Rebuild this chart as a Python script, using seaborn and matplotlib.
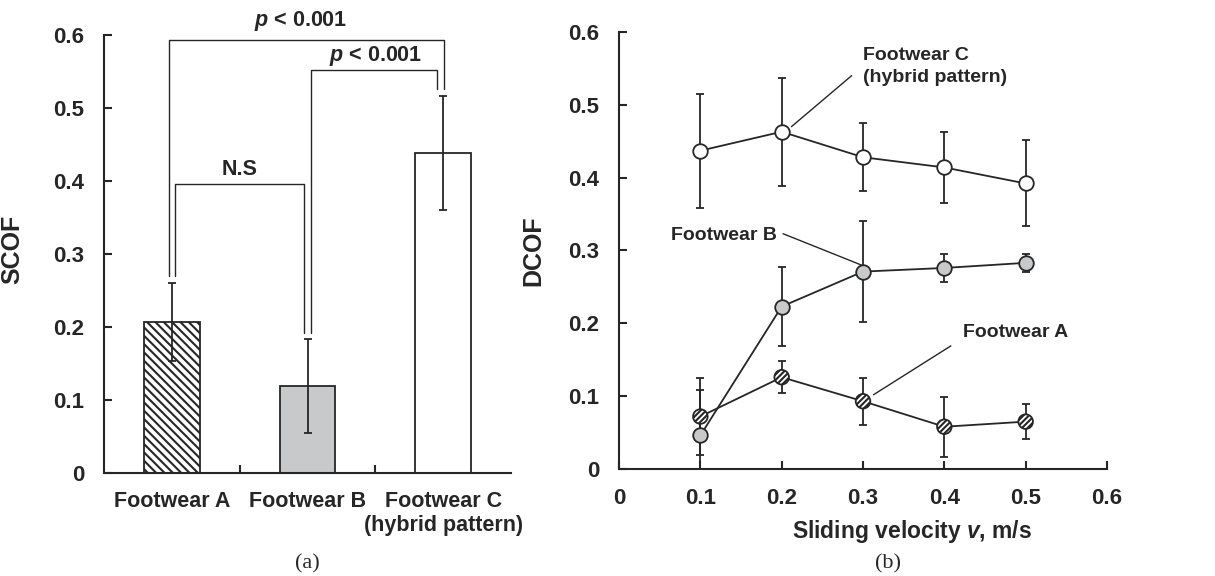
import seaborn as sns
import pandas as pd
import numpy as np
import matplotlib.pyplot as plt

# panel (a): static COF
shoes = ["Footwear A", "Footwear B", "Footwear C"]
shoe_labels = ["Footwear A", "Footwear B", "Footwear C\n(hybrid pattern)"]
scof = [0.207, 0.119, 0.439]
scof_err = [0.053, 0.064, 0.078]

# panel (b): dynamic COF vs sliding velocity
velocity = [0.1, 0.2, 0.3, 0.4, 0.5]
dcof_a = [0.072, 0.126, 0.093, 0.058, 0.065]
dcof_a_err = [0.053, 0.022, 0.032, 0.041, 0.024]
dcof_b = [0.046, 0.223, 0.271, 0.276, 0.283]
dcof_b_err = [0.063, 0.054, 0.069, 0.019, 0.012]
dcof_c = [0.437, 0.463, 0.428, 0.414, 0.392]
dcof_c_err = [0.078, 0.074, 0.047, 0.049, 0.059]

ink = "#262626"
grey = "#c8c9cb"

sns.set_theme(style="ticks")
plt.rcParams['font.family'] = ['Liberation Sans', 'DejaVu Sans']
plt.rcParams['font.weight'] = 'bold'
plt.rcParams['mathtext.fontset'] = 'custom'
plt.rcParams['mathtext.it'] = 'Liberation Sans:bold:italic'
plt.rcParams['mathtext.rm'] = 'Liberation Sans:bold'
plt.rcParams['hatch.linewidth'] = 1.5
plt.rcParams['hatch.color'] = ink
plt.rcParams['axes.linewidth'] = 1.5
plt.rcParams['axes.edgecolor'] = ink

fig = plt.figure(figsize=(12.15, 5.76), dpi=100)
ax1 = fig.add_axes([0.0856, 0.1788, 0.335, 0.760])
ax2 = fig.add_axes([0.5095, 0.1858, 0.4016, 0.7587])

# ---- (a) bars
df_a = pd.DataFrame({"shoe": shoes, "scof": scof})
sns.barplot(data=df_a, x="shoe", y="scof", hue="shoe", palette=["white", grey, "white"],
            width=0.41, edgecolor=ink, linewidth=1.3, errorbar=None, legend=False, ax=ax1)
ax1.patches[0].set_hatch('\\\\\\\\')
ax1.errorbar(range(len(shoes)), scof, yerr=scof_err, fmt='none', ecolor=ink,
             elinewidth=1.3, capsize=3, capthick=1.3, zorder=4)

ax1.set_xlim(-0.5, 2.5)
ax1.set_ylim(0, 0.6)
ax1.set_yticks(np.arange(0, 0.61, 0.1))
ax1.set_yticklabels(["0", "0.1", "0.2", "0.3", "0.4", "0.5", "0.6"])
ax1.set_xticks(range(len(shoes)))
ax1.set_xticklabels(shoe_labels, linespacing=1.2)
ax1.set_xticks([0.5, 1.5], minor=True)
ax1.tick_params(axis='x', which='major', length=0, pad=13, labelsize=15.5)
ax1.tick_params(axis='x', which='minor', direction='in', length=6, width=1.5, color=ink)
ax1.tick_params(axis='y', direction='in', length=6, width=1.5, pad=14, labelsize=16, color=ink)
ax1.set_xlabel("")
ax1.set_ylabel("SCOF", fontsize=18, fontweight='bold')
ax1.yaxis.set_label_coords(-0.197, 0.51)
sns.despine(ax=ax1)

# significance brackets
br = dict(color=ink, lw=1.0, clip_on=False, zorder=3)
ax1.plot([-0.022, -0.022, 2.007, 2.007], [0.27, 0.593, 0.593, 0.527], **br)
ax1.plot([1.022, 1.022, 1.956, 1.956], [0.192, 0.552, 0.552, 0.527], **br)
ax1.plot([0.022, 0.022, 0.971, 0.971], [0.27, 0.396, 0.396, 0.192], **br)
ax1.text(0.95, 0.619, "$p$ < 0.001", ha='center', va='center', fontsize=15.5, clip_on=False)
ax1.text(1.5, 0.571, "$p$ < 0.001", ha='center', va='center', fontsize=15.5)
ax1.text(0.5, 0.416, "N.S", ha='center', va='center', fontsize=15.5)

# ---- (b) lines
df_b = pd.DataFrame({
    "v": velocity * 3,
    "dcof": dcof_a + dcof_b + dcof_c,
    "shoe": ["A"] * 5 + ["B"] * 5 + ["C"] * 5,
})
sns.lineplot(data=df_b, x="v", y="dcof", hue="shoe", palette=[ink] * 3,
             linewidth=1.3, errorbar=None, legend=False, ax=ax2, zorder=2)

series = [(dcof_a, dcof_a_err, "white", '//////'),
          (dcof_b, dcof_b_err, grey, None),
          (dcof_c, dcof_c_err, "white", None)]
for vals, errs, face, hatch in series:
    ax2.errorbar(velocity, vals, yerr=errs, fmt='none', ecolor=ink,
                 elinewidth=1.3, capsize=3, capthick=1.3, zorder=3)
    kw = dict(hatch=hatch) if hatch else {}
    sns.scatterplot(x=velocity, y=vals, color=face, edgecolor=ink, s=110,
                    linewidth=1.3, zorder=4, ax=ax2, **kw)

ax2.set_xlim(0, 0.6)
ax2.set_ylim(0, 0.6)
ax2.set_xticks(np.arange(0, 0.61, 0.1))
ax2.set_xticklabels(["0", "0.1", "0.2", "0.3", "0.4", "0.5", "0.6"])
ax2.set_yticks(np.arange(0, 0.61, 0.1))
ax2.set_yticklabels(["0", "0.1", "0.2", "0.3", "0.4", "0.5", "0.6"])
ax2.tick_params(axis='both', direction='in', length=6, width=1.5, pad=14, labelsize=16, color=ink)
ax2.set_xlabel("Sliding velocity $v$, m/s", fontsize=16.5, fontweight='bold')
ax2.xaxis.set_label_coords(0.6, -0.112)
ax2.set_ylabel("DCOF", fontsize=18, fontweight='bold')
ax2.yaxis.set_label_coords(-0.15, 0.5)
sns.despine(ax=ax2)

# leader lines and labels
ld = dict(color=ink, lw=1.0, zorder=3)
ax2.plot([0.212, 0.286], [0.470, 0.540], **ld)
ax2.text(0.300, 0.580, "Footwear C\n(hybrid pattern)", ha='left', va='top',
         fontsize=14, linespacing=1.4)
ax2.plot([0.2017, 0.298], [0.323, 0.280], **ld)
ax2.text(0.064, 0.321, "Footwear B", ha='left', va='center', fontsize=14)
ax2.plot([0.408, 0.313], [0.169, 0.102], **ld)
ax2.text(0.4226, 0.188, "Footwear A", ha='left', va='center', fontsize=14)

fig.text(307 / 1215, 1 - 564 / 576, "(a)", ha='center', va='center',
         fontsize=16, fontweight='normal', family='Liberation Serif')
fig.text(888 / 1215, 1 - 564 / 576, "(b)", ha='center', va='center',
         fontsize=16, fontweight='normal', family='Liberation Serif')

fig.savefig("out.png", dpi=100)
